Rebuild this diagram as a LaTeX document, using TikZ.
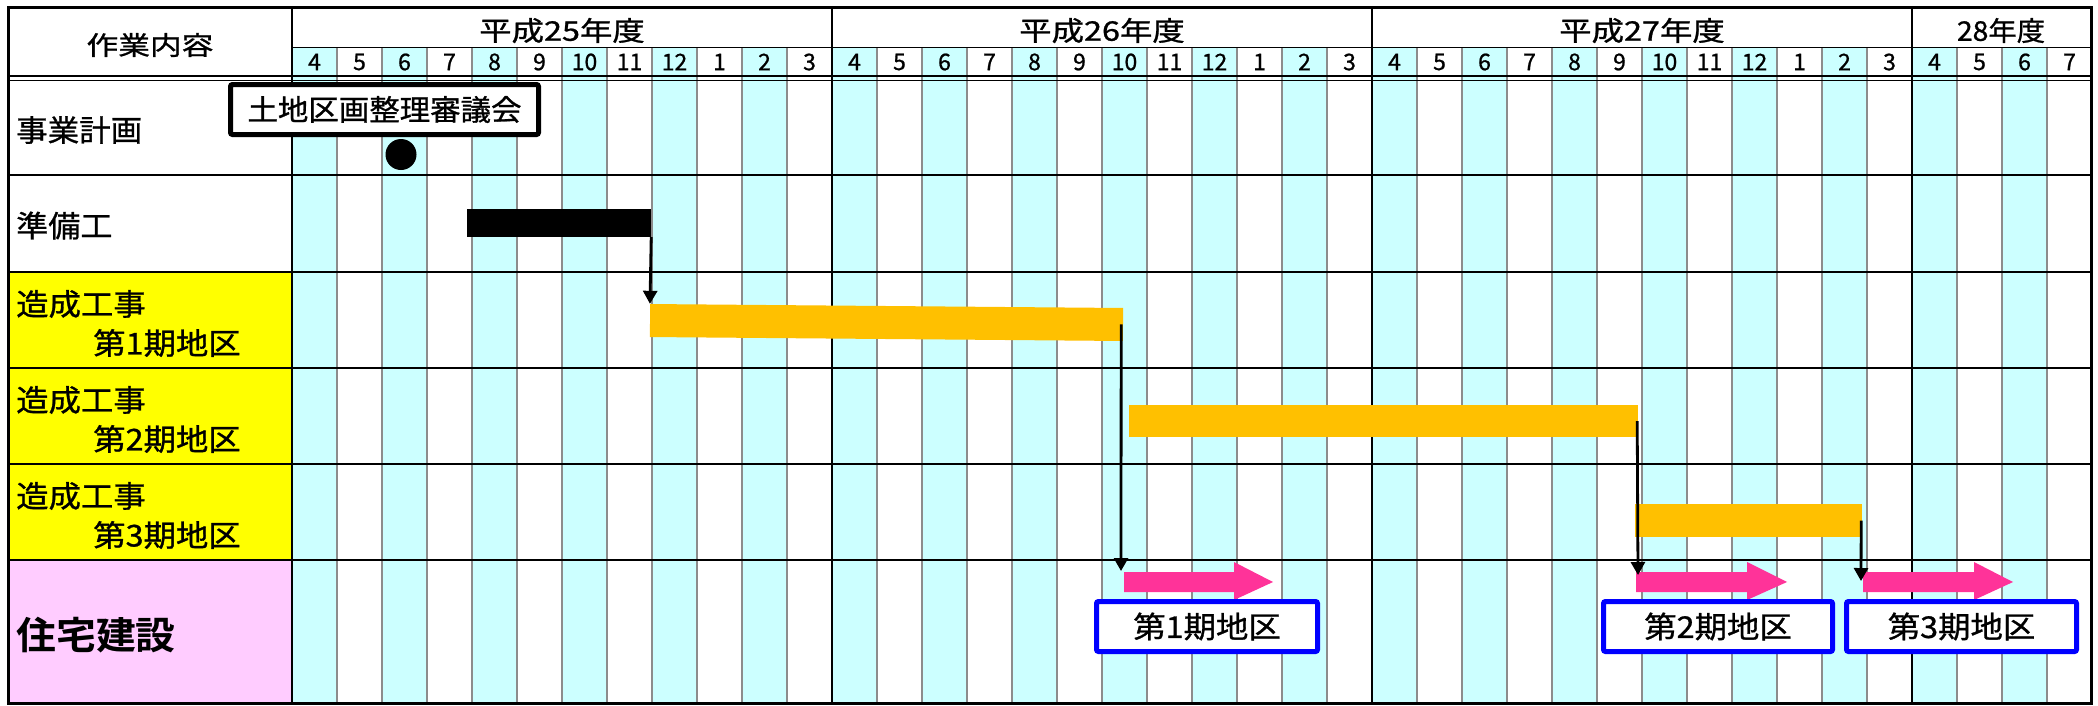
\documentclass[tikz,border=0pt]{standalone}
\usepackage{fontspec}
\usepackage{graphicx}
\newfontfamily\jp[FakeBold=0.9]{Noto Sans CJK JP}
\newfontfamily\jpb{Noto Sans CJK JP Bold}
\usetikzlibrary{arrows.meta}
\definecolor{cy}{HTML}{CCFFFF}
\definecolor{yel}{HTML}{FFFF00}
\definecolor{pnk}{HTML}{FFCCFF}
\definecolor{org}{HTML}{FFC000}
\definecolor{arr}{HTML}{FF3399}
\definecolor{blu}{HTML}{0000FF}
\definecolor{gridgray}{HTML}{8C8C8C}
\newcommand{\hs}[2]{\scalebox{#1}[1]{#2}}
\newcommand{\pinkarrow}[3]{\fill[arr] (#1,572) -- (#3,572) -- (#3,562) -- (#2,582) -- (#3,600) -- (#3,592) -- (#1,592) -- cycle;}
\begin{document}
\begin{tikzpicture}[x=1pt,y=-1pt,
  lbl/.style={anchor=west,inner sep=0pt,font=\jp\fontsize{30}{30}\selectfont},
  yr/.style={inner sep=0pt,font=\jp\fontsize{27}{27}\selectfont},
  mon/.style={inner sep=0pt,font=\jp\fontsize{23}{23}\selectfont},
  obar/.style={fill=org,inner sep=0pt,draw=none},
  blk/.style={line width=2.8pt,-{Triangle[length=13pt,width=14pt]}},
  bbox/.style={draw=blu,line width=5pt,fill=white,rounded corners=2pt,inner sep=0pt,minimum height=50pt,font=\jp\fontsize{30}{30}\selectfont},
  rowline/.style={line width=2pt,black},
  gline/.style={line width=2pt,gridgray}]
\useasboundingbox (0,0) rectangle (2098,705);
\fill[white] (0,0) rectangle (2098,705);
% cyan columns
\foreach \k in {0,2,...,38}{\fill[cy] ({292+45*\k},47.5) rectangle ++(45,655.5);}
% left column colours
\fill[yel] (8.5,272) rectangle (292,560);
\fill[pnk] (8.5,560) rectangle (292,703);
% gray month lines
\foreach \k in {1,...,39}{\draw[gline] ({292+45*\k},47.5) -- ({292+45*\k},703);}
% year boundary lines
\foreach \k in {0,12,24,36}{\draw[line width=2pt] ({292+45*\k},7.5) -- ({292+45*\k},703);}
% horizontal lines
\draw[line width=1.5pt] (292,47.5) -- (2091,47.5);
\draw[line width=1.8pt] (8.5,76) -- (2091,76);
\draw[line width=1.8pt] (8.5,80.5) -- (2091,80.5);
\foreach \yy in {175,272,368,464,560}{\draw[rowline] (8.5,\yy) -- (2091,\yy);}
\draw[line width=3pt] (8.5,7.5) rectangle (2091,703);
% header texts
\node[inner sep=0pt,font=\jp\fontsize{26}{26}\selectfont] (hdr) at (150,45) {\hs{1.22}{作業内容}};
\node[yr] (y25) at (562,30.5) {\hs{1.2}{平成25年度}};
\node[yr] (y26) at (1102,30.5) {\hs{1.2}{平成26年度}};
\node[yr] (y27) at (1642,30.5) {\hs{1.2}{平成27年度}};
\node[yr] (y28) at (2001,30.5) {\hs{1.05}{28年度}};
\foreach \k in {0,...,39}{
  \pgfmathtruncatemacro\m{mod(\k+3,12)+1}
  \node[mon] (m\k) at ({292+45*\k+22.5},62) {\m};
}
% row labels
\node[lbl] (r1) at (16,130) {\hs{1.05}{事業計画}};
\node[lbl] (r2) at (16,225.5) {\hs{1.07}{準備工}};
\node[lbl] (r3a) at (16,304) {\hs{1.08}{造成工事}};
\node[lbl] (r3b) at (93,343) {\hs{1.08}{第1期地区}};
\node[lbl] (r4a) at (16,400) {\hs{1.08}{造成工事}};
\node[lbl] (r4b) at (93,439) {\hs{1.08}{第2期地区}};
\node[lbl] (r5a) at (16,496) {\hs{1.08}{造成工事}};
\node[lbl] (r5b) at (93,535) {\hs{1.08}{第3期地区}};
\node[anchor=west,inner sep=0pt,font=\jpb\fontsize{38}{38}\selectfont] (r6) at (16,635.5) {\hs{1.05}{住宅建設}};
% 事業計画 row
\node[draw,line width=5pt,fill=white,rounded corners=2pt,minimum width=308pt,minimum height=50pt,inner sep=0pt,font=\jp\fontsize{29}{29}\selectfont] (kaigi) at (384.5,109.5) {\hs{1.05}{土地区画整理審議会}};
\node[circle,fill=black,minimum size=31pt,inner sep=0pt] (dot) at (401,154.5) {};
% bars
\node[fill=black,minimum width=184pt,minimum height=28pt,inner sep=0pt] (prep) at (559,223) {};
\node[obar,rotate=-0.48,minimum width=473pt,minimum height=33pt] (b1) at (886.5,322.5) {};
\node[obar,minimum width=509pt,minimum height=32pt] (b2) at (1383.5,421) {};
\node[obar,minimum width=227pt,minimum height=33pt] (b3) at (1748.5,520.5) {};
% pink arrows
\pinkarrow{1124}{1273}{1234}
\pinkarrow{1636}{1787}{1747}
\pinkarrow{1863}{2013}{1974}
\coordinate (t1) at (1121,571);
\coordinate (t2) at (1638,575);
\coordinate (t3) at (1861,581);
% connectors
\draw[blk] (prep.south east) -- (b1.north west);
\draw[blk] ([xshift=-2pt]b1.east) -- (t1);
\draw[blk] ([xshift=-1pt]b2.east) -- (t2);
\draw[blk] ([xshift=-1pt]b3.east) -- (t3);
% blue boxes
\node[bbox,minimum width=221pt] (z1) at (1207,626.5) {\raisebox{-2pt}{\hs{1.08}{第1期地区}}};
\node[bbox,minimum width=229pt] (z2) at (1718,626.5) {\raisebox{-2pt}{\hs{1.08}{第2期地区}}};
\node[bbox,minimum width=230pt] (z3) at (1961.5,626.5) {\raisebox{-2pt}{\hs{1.08}{第3期地区}}};
\end{tikzpicture}
\end{document}
